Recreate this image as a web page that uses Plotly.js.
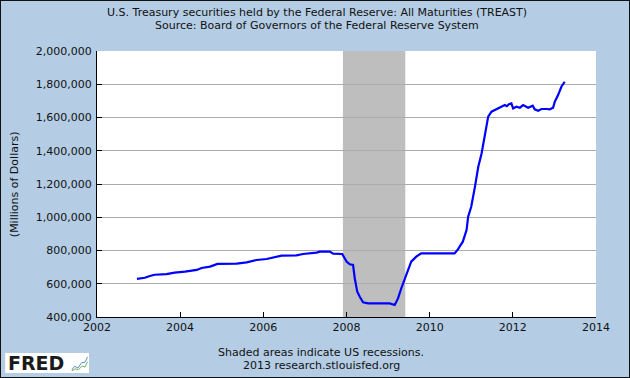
<!DOCTYPE html>
<html>
<head>
<meta charset="utf-8">
<script src="https://cdn.plot.ly/plotly-3.0.1.min.js"></script>
<style>
html,body{margin:0;padding:0;background:#B4CDE4;}
#wrap{position:relative;width:630px;height:378px;}
#chart{width:630px;height:378px;}
#frame{position:absolute;left:0;top:0;width:630px;height:378px;box-sizing:border-box;border:1px solid #111;pointer-events:none;}
</style>
</head>
<body>
<div id="wrap"><div id="chart"></div><div id="frame"></div></div>
<script>
// Weekly TREAST (approximate readings), millions of dollars
const dates = [
"2002-12-18","2003-02-25","2003-04-10","2003-05-23","2003-09-03","2003-11-14",
"2004-02-13","2004-05-26","2004-07-08","2004-09-20","2004-11-24","2005-05-12",
"2005-08-08","2005-10-05","2005-11-03","2006-01-30","2006-03-29","2006-06-10",
"2006-10-19","2006-12-16","2007-04-13","2007-05-12","2007-08-08","2007-09-06",
"2007-11-25","2007-12-18","2008-01-02","2008-01-30","2008-02-28","2008-03-14",
"2008-04-05","2008-04-27","2008-05-26","2008-07-09","2009-01-15","2009-02-28",
"2009-03-29","2009-04-27","2009-05-26","2009-06-24","2009-07-23","2009-09-05",
"2009-10-19","2010-08-08","2010-09-06","2010-10-19","2010-11-21","2010-12-05",
"2011-01-01","2011-02-03","2011-03-04","2011-04-02","2011-05-01","2011-05-30",
"2011-06-28","2011-08-11","2011-09-24","2011-10-23","2011-11-10","2011-11-28",
"2011-12-20","2012-01-04","2012-02-02","2012-03-03","2012-04-01","2012-05-15",
"2012-06-24","2012-07-12","2012-08-11","2012-09-09","2012-10-23","2012-11-21",
"2012-12-20","2013-01-04","2013-02-02","2013-03-03","2013-04-01"
];
const values = [
629000,636000,647000,654000,658000,667000,
673000,683000,695000,703000,719000,721000,
729000,737000,743000,749000,759000,769000,
771000,779000,787000,793000,793000,781000,
779000,753000,733000,717000,713000,633000,
552000,522000,488000,482000,482000,472000,
512000,573000,623000,683000,733000,763000,
783000,783000,807000,853000,923000,1003000,
1063000,1184000,1304000,1384000,1505000,1605000,
1635000,1649000,1665000,1675000,1668000,1680000,
1685000,1655000,1665000,1659000,1675000,1659000,
1671000,1649000,1641000,1651000,1651000,1649000,
1659000,1695000,1735000,1785000,1815000
];
const recessionStart = "2007-12-01";
const recessionEnd = "2009-06-01";
const yearTicks = ["2002","2004","2006","2008","2010","2012","2014"];
const yTicks = [400000,600000,800000,1000000,1200000,1400000,1600000,1800000,2000000];
const yTickText = ["400,000","600,000","800,000","1,000,000","1,200,000","1,400,000","1,600,000","1,800,000","2,000,000"];

const FONT = "DejaVu Sans, Verdana, sans-serif";

const trace = {
  x: dates, y: values, type: "scatter", mode: "lines",
  line: {color: "#0000FF", width: 2.2},
  hoverinfo: "skip"
};

const layout = {
  width: 630, height: 378,
  paper_bgcolor: "#B4CDE4",
  plot_bgcolor: "#FFFFFF",
  margin: {l: 97, r: 34, t: 51, b: 61, pad: 0},
  showlegend: false,
  font: {family: FONT, size: 11, color: "#111"},
  xaxis: {
    type: "date",
    range: ["2002-01-01", "2014-01-01"],
    tickvals: yearTicks.map(y => y + "-01-01"),
    ticktext: yearTicks,
    ticks: "inside", ticklen: 5, tickcolor: "#000", tickwidth: 1,
    showgrid: false, zeroline: false,
    showline: true, linecolor: "#000", linewidth: 1,
    tickfont: {family: FONT, size: 11, color: "#111"},
    fixedrange: true
  },
  yaxis: {
    range: [400000, 2000000],
    tickvals: yTicks,
    ticktext: yTickText,
    ticks: "inside", ticklen: 5, tickcolor: "#000", tickwidth: 1,
    showgrid: true, gridcolor: "#ABABAB", gridwidth: 1,
    zeroline: false,
    showline: true, linecolor: "#000", linewidth: 1,
    tickfont: {family: FONT, size: 11, color: "#111"},
    ticklabelstandoff: 2,
    fixedrange: true
  },
  shapes: [
    {type: "rect", xref: "x", yref: "paper", x0: recessionStart, x1: recessionEnd, y0: 0, y1: 1,
     fillcolor: "#BEBEBE", line: {width: 0}, layer: "below"},
    // FRED logo box
    {type: "rect", xref: "paper", yref: "paper", x0: -0.184, x1: -0.016, y0: -0.2105, y1: -0.135,
     fillcolor: "#FFFFFF", line: {width: 0}},
    {type: "path", xref: "paper", yref: "paper",
     path: "M -0.0505 -0.199 L -0.045 -0.185 L -0.038 -0.192 L -0.031 -0.172 L -0.024 -0.170 L -0.019 -0.150",
     line: {color: "#5A8FC8", width: 1}},
    {type: "path", xref: "paper", yref: "paper",
     path: "M -0.0505 -0.203 L -0.044 -0.195 L -0.037 -0.198 L -0.030 -0.185 L -0.024 -0.188 L -0.019 -0.168",
     line: {color: "#6DB36D", width: 1}}
  ],
  annotations: [
    {text: "U.S. Treasury securities held by the Federal Reserve: All Maturities (TREAST)",
     xref: "paper", yref: "paper", x: 0.441, y: 1.1466, xanchor: "center", yanchor: "middle",
     showarrow: false, font: {family: FONT, size: 11, color: "#111"}},
    {text: "Source: Board of Governors of the Federal Reserve System",
     xref: "paper", yref: "paper", x: 0.441, y: 1.094, xanchor: "center", yanchor: "middle",
     showarrow: false, font: {family: FONT, size: 11, color: "#111"}},
    {text: "(Millions of Dollars)", textangle: -90,
     xref: "paper", yref: "paper", x: -0.166, y: 0.5, xanchor: "center", yanchor: "middle",
     showarrow: false, font: {family: FONT, size: 11, color: "#111"}},
    {text: "Shaded areas indicate US recessions.",
     xref: "paper", yref: "paper", x: 0.449, y: -0.1316, xanchor: "center", yanchor: "middle",
     showarrow: false, font: {family: FONT, size: 11, color: "#111"}},
    {text: "2013 research.stlouisfed.org",
     xref: "paper", yref: "paper", x: 0.449, y: -0.1805, xanchor: "center", yanchor: "middle",
     showarrow: false, font: {family: FONT, size: 11, color: "#111"}},
    {text: "<b>FRED</b>",
     xref: "paper", yref: "paper", x: -0.182, y: -0.1725, xanchor: "left", yanchor: "middle",
     showarrow: false, font: {family: "DejaVu Sans, Arial, sans-serif", size: 19, color: "#1a1a1a"}}
  ]
};

Plotly.newPlot("chart", [trace], layout, {displayModeBar: false, staticPlot: true});
</script>
</body>
</html>
